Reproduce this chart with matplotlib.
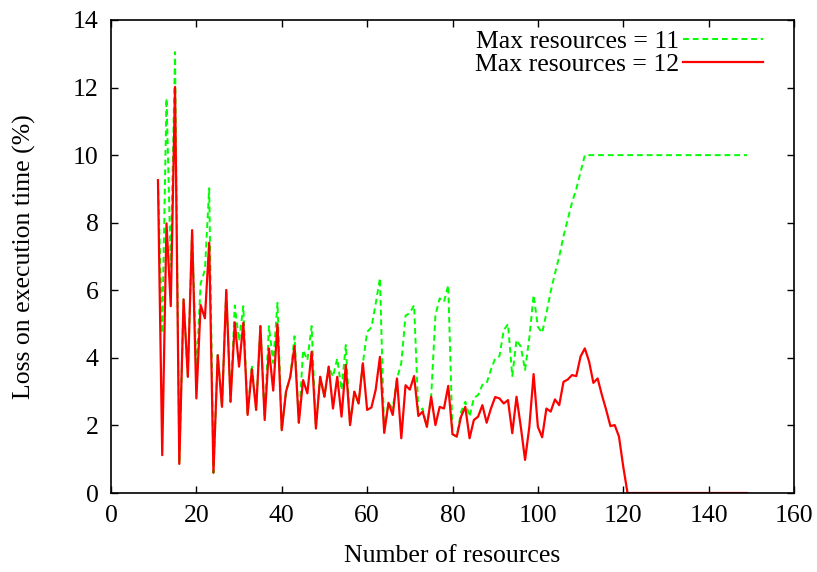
import matplotlib
matplotlib.use("Agg")
import matplotlib.pyplot as plt
import numpy as np

plt.rcParams['font.family'] = ['Liberation Serif', 'DejaVu Serif']

# number of resources, 11..149
res = np.arange(11, 150)

# Max resources = 11 (green, dashed)
loss11 = [9.26, 4.73, 11.68, 6.70, 13.05, 0.86, 5.73, 3.44, 7.78, 3.6,
          6.2, 6.6, 9.02, 0.60, 4.08, 2.55, 6.01, 2.70, 5.55, 4.5,
          5.53, 2.31, 3.79, 2.46, 4.94, 2.3, 4.94, 3.85, 5.63, 1.86,
          3.00, 3.44, 4.64, 2.08, 4.23, 3.93, 4.94, 1.91, 3.44, 2.85,
          3.74, 3.44, 3.98, 3.05, 4.38, 2.01, 3.00, 2.65, 3.84, 4.77,
          4.90, 5.6, 6.36, 1.78, 2.67, 2.5, 3.39, 3.84, 5.25, 5.33,
          5.56, 2.4, 2.50, 1.96, 2.85, 5.27, 5.76, 5.66, 6.15, 1.74,
          1.67, 2.4, 2.70, 2.26, 2.81, 2.90, 3.20, 3.25, 3.65, 3.98,
          4.05, 4.82, 5.00, 3.46, 4.53, 4.33, 3.64, 4.6, 5.86, 4.92,
          4.74, 5.32, 5.96, 6.5, 7.0, 7.6, 8.1, 8.6, 9.0, 9.5] + [10.0] * 39

# Max resources = 12 (red, solid)
loss12 = [9.26, 1.12, 7.98, 5.53, 12.02, 0.86, 5.73, 3.44, 7.78, 2.80,
          5.56, 5.17, 7.41, 0.60, 4.08, 2.55, 6.01, 2.70, 5.05, 3.74,
          5.04, 2.31, 3.66, 2.46, 4.94, 2.16, 4.28, 3.03, 5.00, 1.86,
          3.00, 3.44, 4.35, 2.08, 3.34, 2.95, 4.18, 1.91, 3.44, 2.85,
          3.74, 2.50, 3.44, 2.26, 3.79, 2.01, 3.00, 2.65, 3.84, 2.46,
          2.53, 3.05, 4.03, 1.78, 2.67, 2.31, 3.39, 1.62, 3.19, 3.06,
          3.46, 2.28, 2.41, 1.96, 2.85, 2.01, 2.55, 2.50, 3.17, 1.74,
          1.67, 2.26, 2.55, 1.62, 2.16, 2.26, 2.60, 2.08, 2.50, 2.84,
          2.80, 2.65, 2.75, 1.77, 2.85, 1.96, 0.98, 1.96, 3.52, 1.96,
          1.65, 2.50, 2.41, 2.77, 2.60, 3.29, 3.36, 3.49, 3.46, 4.04,
          4.28, 3.89, 3.26, 3.39, 2.90, 2.46, 1.98, 2.01, 1.67, 0.78] + [0.0] * 29

fs = 18.5
fig = plt.figure(figsize=(8.17, 5.72), dpi=100)
ax = fig.add_axes([111/817, 79/572, 683/817, 473/572])

ax.plot(res, loss11, color='#00ff00', lw=1.4, dashes=(3, 2), label='Max resources = 11')
ax.plot(res, loss12, color='#ff0000', lw=1.6, label='Max resources = 12')

ax.set_xlim(0, 160)
ax.set_ylim(0, 14)
ax.set_xticks(np.arange(0, 161, 20))
ax.set_yticks(np.arange(0, 15, 2))
ax.tick_params(direction='in', top=True, right=True, length=5, width=1,
               labelsize=fs, pad=9)
for s in ax.spines.values():
    s.set_linewidth(1.2)

ax.set_xlabel('Number of resources', fontsize=fs)
ax.set_ylabel('Loss on execution time (%)', fontsize=fs)
ax.xaxis.set_label_coords(0.5, -0.11)
ax.yaxis.set_label_coords(-0.11, 0.5)

ax.legend(loc='upper right', frameon=False, fontsize=fs, markerfirst=False,
          handlelength=3.1, handletextpad=0.15, labelspacing=0.02,
          borderaxespad=0, borderpad=0, bbox_to_anchor=(0.9546, 0.979))

fig.savefig('out.png', dpi=100)
